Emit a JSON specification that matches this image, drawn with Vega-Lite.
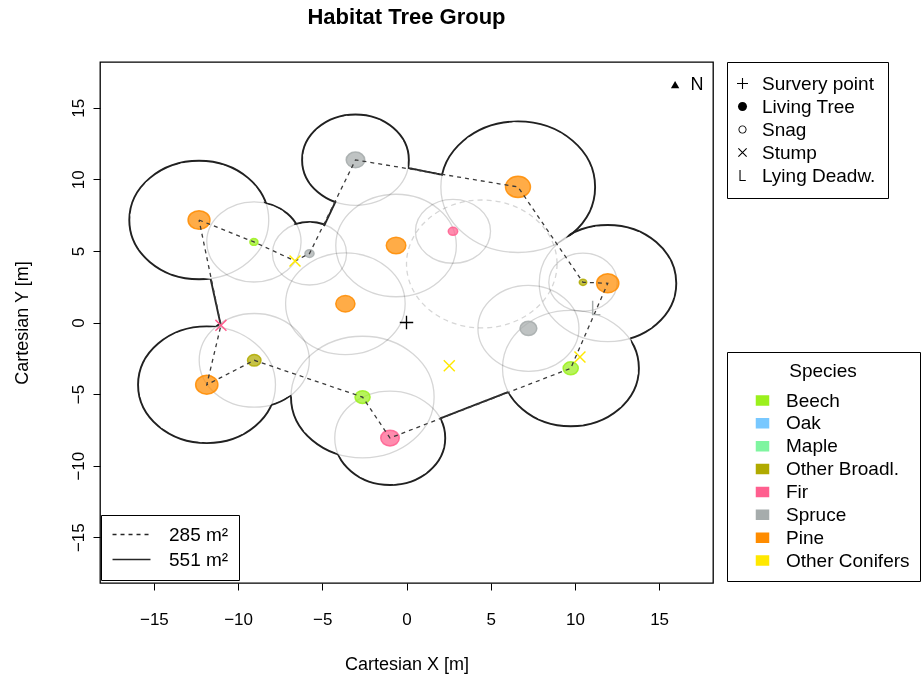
{
  "$schema": "https://vega.github.io/schema/vega-lite/v6.json",
  "width": 613,
  "height": 521,
  "autosize": {"type": "none"},
  "padding": {"left": 100, "top": 62, "right": 209, "bottom": 95},
  "background": "white",
  "title": {"text": "Habitat Tree Group", "fontSize": 22, "fontWeight": "bold", "color": "black", "anchor": "middle", "offset": 33},
  "config": {
    "font": "Liberation Sans",
    "view": {"stroke": "black", "strokeWidth": 1.3},
    "axis": {
      "domain": false, "grid": false,
      "tickColor": "black", "tickSize": 7, "tickWidth": 1,
      "labelFontSize": 17, "labelColor": "black",
      "titleFontSize": 18, "titleFontWeight": "normal", "titleColor": "black"
    }
  },
  "datasets": {
    "trees": [
      {"id": 1, "species": "Pine", "x": -12.32, "y": 7.16, "stem_r": 0.65, "r": 4.14, "rim": true},
      {"id": 2, "species": "Beech", "x": -9.06, "y": 5.63, "stem_r": 0.24, "r": 2.8, "rim": true},
      {"id": 3, "species": "Spruce", "x": -5.76, "y": 4.82, "stem_r": 0.27, "r": 2.2, "rim": true},
      {"id": 5, "species": "Spruce", "x": -3.03, "y": 11.36, "stem_r": 0.55, "r": 3.17, "rim": true},
      {"id": 6, "species": "Pine", "x": 6.62, "y": 9.47, "stem_r": 0.74, "r": 4.58, "rim": true},
      {"id": 7, "species": "Pine", "x": -0.62, "y": 5.38, "stem_r": 0.58, "r": 3.58, "rim": false},
      {"id": 8, "species": "Fir", "x": 2.76, "y": 6.37, "stem_r": 0.28, "r": 2.23, "rim": false},
      {"id": 9, "species": "Pine", "x": -3.63, "y": 1.31, "stem_r": 0.57, "r": 3.55, "rim": false},
      {"id": 10, "species": "Other Broadl.", "x": 10.48, "y": 2.81, "stem_r": 0.22, "r": 2.03, "rim": false},
      {"id": 11, "species": "Pine", "x": 11.95, "y": 2.74, "stem_r": 0.66, "r": 4.07, "rim": true},
      {"id": 13, "species": "Spruce", "x": 7.24, "y": -0.41, "stem_r": 0.5, "r": 3.0, "rim": false},
      {"id": 16, "species": "Beech", "x": 9.75, "y": -3.2, "stem_r": 0.45, "r": 4.05, "rim": true},
      {"id": 18, "species": "Pine", "x": -11.86, "y": -4.35, "stem_r": 0.66, "r": 4.08, "rim": true},
      {"id": 19, "species": "Other Broadl.", "x": -9.04, "y": -2.64, "stem_r": 0.4, "r": 3.27, "rim": true},
      {"id": 20, "species": "Beech", "x": -2.61, "y": -5.21, "stem_r": 0.45, "r": 4.25, "rim": true},
      {"id": 21, "species": "Fir", "x": -0.98, "y": -8.07, "stem_r": 0.55, "r": 3.28, "rim": true}
    ],
    "deadwood": [
      {"type": "Stump", "species": "Other Conifers", "x": -6.62, "y": 4.3},
      {"type": "Stump", "species": "Other Conifers", "x": 2.54, "y": -3.02},
      {"type": "Stump", "species": "Other Conifers", "x": 10.3, "y": -2.41},
      {"type": "Stump", "species": "Fir", "x": -11.02, "y": -0.2},
      {"type": "Lying Deadw.", "species": "Spruce", "x": 11.25, "y": 1.01}
    ],
    "survey": [{"type": "Survery point", "x": 0, "y": 0}],
    "gap": [{"x": 4.47, "y": 4.09, "r": 4.47}],
    "area551": [
      {"i": 1, "x": -11.63, "y": 3.04}, {"i": 2, "x": -14.05, "y": 3.44}, {"i": 3, "x": -15.87, "y": 5.11},
      {"i": 4, "x": -16.4, "y": 7.52}, {"i": 5, "x": -15.46, "y": 9.8}, {"i": 6, "x": -13.38, "y": 11.12},
      {"i": 7, "x": -10.92, "y": 11.01}, {"i": 8, "x": -8.96, "y": 9.51}, {"i": 9, "x": -8.45, "y": 8.35},
      {"i": 10, "x": -7.36, "y": 7.81}, {"i": 11, "x": -6.64, "y": 6.82}, {"i": 12, "x": -5.72, "y": 6.98},
      {"i": 13, "x": -4.9, "y": 6.74}, {"i": 14, "x": -4.2, "y": 8.48}, {"i": 15, "x": -5.71, "y": 9.75},
      {"i": 16, "x": -6.14, "y": 11.69}, {"i": 17, "x": -5.32, "y": 13.49}, {"i": 18, "x": -3.57, "y": 14.44},
      {"i": 19, "x": -1.61, "y": 14.15}, {"i": 20, "x": -0.22, "y": 12.73}, {"i": 21, "x": 0.09, "y": 10.8},
      {"i": 22, "x": 2.17, "y": 10.31}, {"i": 23, "x": 3.64, "y": 12.9}, {"i": 24, "x": 6.38, "y": 14.0},
      {"i": 25, "x": 9.22, "y": 13.19}, {"i": 26, "x": 10.96, "y": 10.8}, {"i": 27, "x": 10.86, "y": 7.84},
      {"i": 28, "x": 9.45, "y": 5.9}, {"i": 29, "x": 11.25, "y": 6.71}, {"i": 30, "x": 13.84, "y": 6.3},
      {"i": 31, "x": 15.63, "y": 4.38}, {"i": 32, "x": 15.86, "y": 1.77}, {"i": 33, "x": 14.54, "y": -0.35},
      {"i": 34, "x": 13.27, "y": -1.01}, {"i": 35, "x": 13.74, "y": -3.55}, {"i": 36, "x": 12.73, "y": -5.88},
      {"i": 37, "x": 10.45, "y": -7.15}, {"i": 38, "x": 7.87, "y": -6.74}, {"i": 39, "x": 6.03, "y": -4.86},
      {"i": 40, "x": 2.0, "y": -6.7}, {"i": 41, "x": 2.19, "y": -8.74}, {"i": 42, "x": 1.15, "y": -10.52},
      {"i": 43, "x": -0.75, "y": -11.3}, {"i": 44, "x": -2.74, "y": -10.79}, {"i": 45, "x": -4.07, "y": -9.19},
      {"i": 46, "x": -6.06, "y": -7.63}, {"i": 47, "x": -6.85, "y": -5.05}, {"i": 48, "x": -8.0, "y": -5.7},
      {"i": 49, "x": -9.72, "y": -7.78}, {"i": 50, "x": -12.21, "y": -8.37}, {"i": 51, "x": -14.56, "y": -7.35},
      {"i": 52, "x": -15.83, "y": -5.12}, {"i": 53, "x": -15.49, "y": -2.58}, {"i": 54, "x": -13.69, "y": -0.75},
      {"i": 55, "x": -11.02, "y": -0.24}, {"i": 56, "x": -11.63, "y": 3.04}
    ],
    "bridges": [
      {"seg": 1, "i": 1, "x": -11.02, "y": -0.24}, {"seg": 1, "i": 2, "x": -11.63, "y": 3.04},
      {"seg": 2, "i": 1, "x": -4.9, "y": 6.74}, {"seg": 2, "i": 2, "x": -4.2, "y": 8.48},
      {"seg": 3, "i": 1, "x": 0.09, "y": 10.8}, {"seg": 3, "i": 2, "x": 2.17, "y": 10.31},
      {"seg": 4, "i": 1, "x": 6.03, "y": -4.86}, {"seg": 4, "i": 2, "x": 2.0, "y": -6.7}
    ],
    "links": [
      {"i": 1, "x": -12.32, "y": 7.16},
      {"i": 2, "x": -9.06, "y": 5.63},
      {"i": 3, "x": -6.62, "y": 4.3},
      {"i": 4, "x": -5.76, "y": 4.82},
      {"i": 5, "x": -3.03, "y": 11.36},
      {"i": 6, "x": 6.62, "y": 9.47},
      {"i": 7, "x": 10.48, "y": 2.81},
      {"i": 8, "x": 11.95, "y": 2.74},
      {"i": 9, "x": 9.75, "y": -3.2},
      {"i": 10, "x": -0.98, "y": -8.07},
      {"i": 11, "x": -2.61, "y": -5.21},
      {"i": 12, "x": -9.04, "y": -2.64},
      {"i": 13, "x": -11.86, "y": -4.35},
      {"i": 14, "x": -11.02, "y": -0.2},
      {"i": 15, "x": -12.32, "y": 7.16}
    ],
    "north": [{"x": 15.95, "y": 16.62, "label": "N"}]
  },
  "encoding": {
    "x": {"field": "x", "type": "quantitative",
      "scale": {"domain": [-18.2, 18.2], "nice": false, "zero": false},
      "axis": {"values": [-15, -10, -5, 0, 5, 10, 15], "title": "Cartesian X [m]", "labelPadding": 21, "titlePadding": 28}},
    "y": {"field": "y", "type": "quantitative",
      "scale": {"domain": [-18.2, 18.2], "nice": false, "zero": false},
      "axis": {"values": [-15, -10, -5, 0, 5, 10, 15], "title": "Cartesian Y [m]", "labelAngle": -90, "labelAlign": "center", "labelBaseline": "bottom", "labelPadding": 6, "titlePadding": 38}}
  },
  "layer": [
    {
      "data": {"name": "trees"},
      "transform": [{"filter": "datum.rim"}],
      "mark": {"type": "point", "shape": "M1,0A1,0.85,0,1,1,-1,0A1,0.85,0,1,1,1,0Z", "filled": false, "stroke": "#262626", "strokeWidth": 1.9, "opacity": 1},
      "encoding": {
        "size": {"field": "r", "type": "quantitative", "scale": {"type": "pow", "exponent": 2, "domain": [0, 10], "range": [0, 113420], "zero": true}, "legend": null}
      }
    },
    {
      "data": {"name": "area551"},
      "mark": {"type": "line", "fill": "white", "fillOpacity": 1, "stroke": "white", "strokeOpacity": 0, "strokeWidth": 0},
      "encoding": {"order": {"field": "i"}}
    },
    {
      "data": {"name": "bridges"},
      "mark": {"type": "line", "stroke": "#262626", "strokeWidth": 1.9},
      "encoding": {
        "detail": {"field": "seg"},
        "order": {"field": "i"},
        "strokeDash": {"datum": "551 m²", "type": "nominal",
          "scale": {"domain": ["285 m²", "551 m²"], "range": [[4, 4], [1, 0]]},
          "legend": {"title": null, "orient": "none", "legendX": 1, "legendY": 453,
            "strokeColor": "black", "fillColor": "white", "padding": 10,
            "symbolType": "M-3,0H3", "symbolSize": 160, "symbolOffset": 11, "labelFontSize": 19, "labelColor": "black", "labelOffset": 28, "rowPadding": 5,
            "encode": {"symbols": {"update": {"stroke": {"value": "#333333"}, "strokeWidth": {"value": 1.2}, "opacity": {"value": 1}}}}}
        }
      }
    },
    {
      "data": {"name": "trees"},
      "mark": {"type": "point", "shape": "M1,0A1,0.85,0,1,1,-1,0A1,0.85,0,1,1,1,0Z", "filled": false, "stroke": "#d6d6d6", "strokeWidth": 1.3, "opacity": 1, "blend": "multiply"},
      "encoding": {
        "size": {"field": "r", "type": "quantitative", "scale": {"type": "pow", "exponent": 2, "domain": [0, 10], "range": [0, 113420], "zero": true}, "legend": null}
      }
    },
    {
      "data": {"name": "gap"},
      "mark": {"type": "point", "shape": "M1,0A1,0.85,0,1,1,-1,0A1,0.85,0,1,1,1,0Z", "filled": false, "stroke": "#d6d6d6", "strokeWidth": 1.3, "strokeDash": [5, 4], "opacity": 1, "blend": "multiply"},
      "encoding": {
        "size": {"field": "r", "type": "quantitative", "scale": {"type": "pow", "exponent": 2, "domain": [0, 10], "range": [0, 113420], "zero": true}, "legend": null}
      }
    },
    {
      "data": {"name": "trees"},
      "mark": {"type": "point", "shape": "M1,0A1,0.85,0,1,1,-1,0A1,0.85,0,1,1,1,0Z", "filled": true, "fillOpacity": 0.72, "strokeOpacity": 0.85, "strokeWidth": 1.5, "opacity": 1},
      "encoding": {
        "size": {"field": "stem_r", "type": "quantitative", "scale": {"type": "pow", "exponent": 2, "domain": [0, 10], "range": [0, 113420], "zero": true}, "legend": null},
        "fill": {"field": "species", "type": "nominal",
          "scale": {"domain": ["Beech", "Oak", "Maple", "Other Broadl.", "Fir", "Spruce", "Pine", "Other Conifers"],
            "range": ["#9BF01C", "#78C8FF", "#7FF5A0", "#B0AA00", "#FF5F8F", "#A6ACAC", "#FF8C00", "#FFE800"]},
          "legend": {"title": "Species", "orient": "none", "legendX": 627, "legendY": 290,
            "strokeColor": "black", "fillColor": "white", "padding": 10,
            "titleFontSize": 19, "titleFontWeight": "normal", "titleColor": "black", "titleAnchor": "middle", "titlePadding": 10,
            "labelFontSize": 19, "labelColor": "black", "labelOffset": 14,
            "symbolType": "M-1,-0.75H1V0.75H-1Z", "symbolSize": 144, "symbolOffset": 16, "rowPadding": 2.86,
            "encode": {"symbols": {"update": {"strokeWidth": {"value": 0}, "opacity": {"value": 1}, "fillOpacity": {"value": 1}}}}}
        },
        "stroke": {"field": "species", "type": "nominal",
          "scale": {"domain": ["Beech", "Oak", "Maple", "Other Broadl.", "Fir", "Spruce", "Pine", "Other Conifers"],
            "range": ["#9BF01C", "#78C8FF", "#7FF5A0", "#B0AA00", "#FF5F8F", "#A6ACAC", "#FF8C00", "#FFE800"]},
          "legend": null}
      }
    },
    {
      "data": {"name": "links"},
      "mark": {"type": "line", "stroke": "#3a3a3a", "strokeWidth": 1.3},
      "encoding": {
        "order": {"field": "i"},
        "strokeDash": {"datum": "285 m²", "type": "nominal"}
      }
    },
    {
      "data": {"name": "deadwood"},
      "mark": {"type": "point", "filled": true, "size": 215, "opacity": 1, "strokeWidth": 0},
      "encoding": {
        "fill": {"field": "species", "type": "nominal"},
        "shape": {"field": "type", "type": "nominal",
          "scale": {"domain": ["Survery point", "Living Tree", "Snag", "Stump", "Lying Deadw."],
            "range": [
              "M-1,-0.1H-0.1V-1H0.1V-0.1H1V0.1H0.1V1H-0.1V0.1H-1Z",
              "M0.82,0A0.82,0.82,0,1,1,-0.82,0A0.82,0.82,0,1,1,0.82,0Z",
              "M0.74,0A0.74,0.74,0,1,1,-0.74,0A0.74,0.74,0,1,1,0.74,0ZM0.57,0A0.57,0.57,0,1,0,-0.57,0A0.57,0.57,0,1,0,0.57,0Z",
              "M-0.68,-0.82L0.82,0.68L0.68,0.82L-0.82,-0.68ZM0.82,-0.68L-0.68,0.82L-0.82,0.68L0.68,-0.82Z",
              "M-0.55,-1H-0.35V0.8H0.6V1H-0.55Z"
            ]},
          "legend": {"title": null, "orient": "none", "legendX": 627, "legendY": 0,
            "strokeColor": "black", "fillColor": "white", "padding": 12,
            "labelFontSize": 19, "labelColor": "black", "labelOffset": 10,
            "symbolSize": 121, "symbolOffset": -6, "rowPadding": 3,
            "encode": {"symbols": {"update": {"fill": {"value": "black"}, "stroke": {"value": "black"}, "strokeWidth": {"value": 0}, "opacity": {"value": 1}, "fillOpacity": {"value": 1}}}}}
        }
      }
    },
    {
      "data": {"name": "survey"},
      "mark": {"type": "point", "filled": true, "size": 180, "opacity": 1, "color": "black", "strokeWidth": 0},
      "encoding": {
        "shape": {"field": "type", "type": "nominal"}
      }
    },
    {
      "data": {"name": "north"},
      "mark": {"type": "point", "shape": "triangle-up", "filled": true, "color": "black", "size": 70, "opacity": 1}
    },
    {
      "data": {"name": "north"},
      "mark": {"type": "text", "fontSize": 18, "color": "black", "align": "center", "baseline": "middle", "dx": 22},
      "encoding": {"text": {"field": "label"}}
    }
  ]
}
